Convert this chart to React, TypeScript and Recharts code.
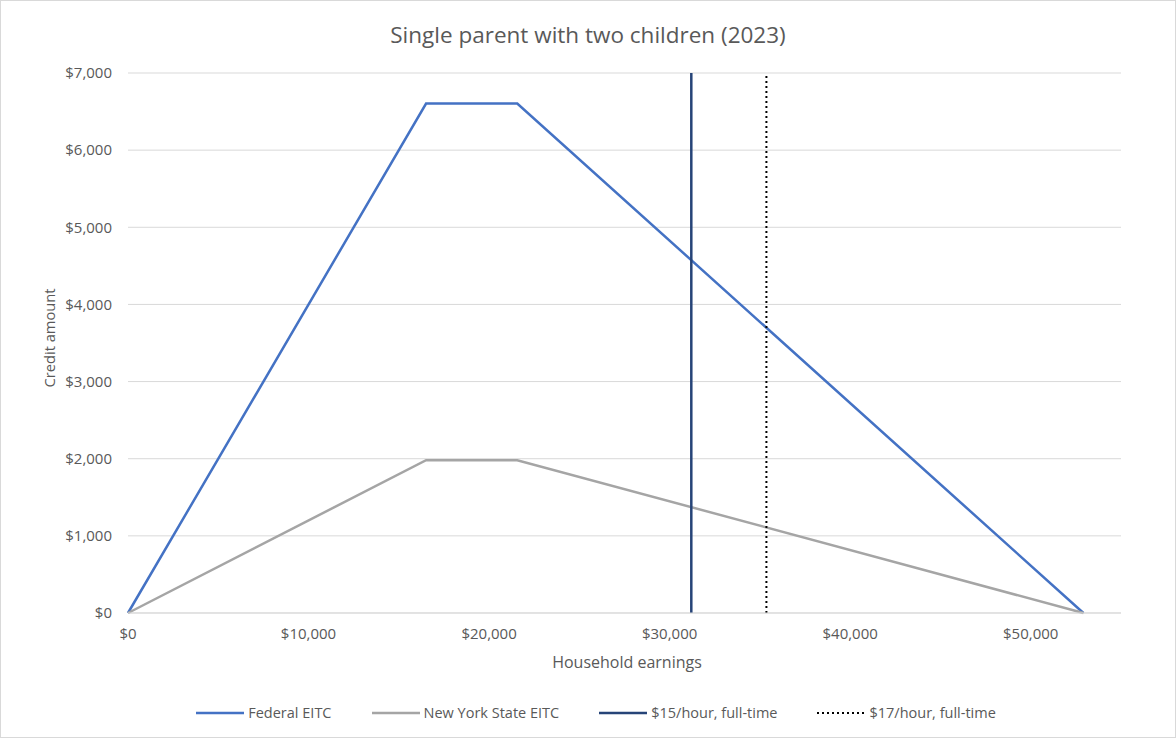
import { LineChart, Line, XAxis, YAxis, CartesianGrid, Legend } from 'recharts';

// earnings breakpoints ($) and credit amounts ($)
const earnings = [0, 16510, 21560, 52918];
const federalEitc = [0, 6604, 6604, 0];
const nyStateEitc = [0, 1981, 1981, 0];

const wage15 = 31200; // $15/hour * 2080 hours
const wage17 = 35360; // $17/hour * 2080 hours
const wageLineSpan = [0, 7000];

const xTicks = [0, 10000, 20000, 30000, 40000, 50000];
const yTicks = [0, 1000, 2000, 3000, 4000, 5000, 6000, 7000];

const FONT = '"Open Sans", sans-serif';
const TEXT = '#595959';

const federalData = earnings.map((x, i) => ({ x, y: federalEitc[i] }));
const nyData = earnings.map((x, i) => ({ x, y: nyStateEitc[i] }));
const wage15Data = wageLineSpan.map((y) => ({ x: wage15, y }));
const wage17Data = wageLineSpan.map((y) => ({ x: wage17, y }));

const legendItems = [
  { label: 'Federal EITC', color: '#4472C4', width: 2.5, dash: undefined },
  { label: 'New York State EITC', color: '#A5A5A5', width: 2.5, dash: undefined },
  { label: '$15/hour, full-time', color: '#264478', width: 2.5, dash: undefined },
  { label: '$17/hour, full-time', color: '#000000', width: 2, dash: '2 3' },
];

const money = (v: number) => '$' + v.toLocaleString('en-US');

function ExcelLegend() {
  return (
    <div style={{ display: 'flex', justifyContent: 'center', gap: 40, fontFamily: FONT, fontSize: 14.5, color: TEXT }}>
      {legendItems.map((it) => (
        <div key={it.label} style={{ display: 'flex', alignItems: 'center', gap: 4 }}>
          <svg width={48} height={10}>
            <line x1={0} x2={48} y1={5} y2={5} stroke={it.color} strokeWidth={it.width} strokeDasharray={it.dash} />
          </svg>
          <span>{it.label}</span>
        </div>
      ))}
    </div>
  );
}

export default function App() {
  return (
    <div style={{ position: 'absolute', left: 0, top: 0, width: 1174, height: 736, border: '1px solid #d9d9d9', background: '#fff' }}>
      <div style={{ position: 'absolute', top: 18, width: '100%', textAlign: 'center', fontFamily: FONT, fontSize: 22.5, color: TEXT }}>
        Single parent with two children (2023)
      </div>
      <div
        style={{
          position: 'absolute', left: 48, top: 337, transform: 'translate(-50%, -50%) rotate(-90deg)',
          fontFamily: FONT, fontSize: 14.7, color: TEXT, whiteSpace: 'nowrap',
        }}
      >
        Credit amount
      </div>
      <div style={{ position: 'absolute', left: 0, top: 650, width: 1252, textAlign: 'center', fontFamily: FONT, fontSize: 16, color: TEXT }}>
        Household earnings
      </div>
      <LineChart width={1174} height={736} margin={{ top: 72, right: 54, left: 0, bottom: 75 }}>
        <CartesianGrid vertical={false} stroke="#d9d9d9" />
        <XAxis
          type="number"
          dataKey="x"
          domain={[0, 55000]}
          ticks={xTicks}
          tickFormatter={money}
          allowDuplicatedCategory={false}
          tick={{ fontSize: 15, fill: TEXT, fontFamily: FONT }}
          axisLine={{ stroke: '#d9d9d9' }}
          tickLine={false}
          tickMargin={9}
        />
        <YAxis
          type="number"
          dataKey="y"
          width={127}
          domain={[0, 7000]}
          ticks={yTicks}
          tickFormatter={money}
          tick={{ fontSize: 15, fill: TEXT, fontFamily: FONT }}
          axisLine={false}
          tickLine={false}
          tickMargin={10}
        />
        <Line data={federalData} dataKey="y" name="Federal EITC" stroke="#4472C4" strokeWidth={2.5} dot={false} isAnimationActive={false} />
        <Line data={nyData} dataKey="y" name="New York State EITC" stroke="#A5A5A5" strokeWidth={2.5} dot={false} isAnimationActive={false} />
        <Line data={wage15Data} dataKey="y" name="$15/hour, full-time" stroke="#264478" strokeWidth={2.5} dot={false} isAnimationActive={false} />
        <Line data={wage17Data} dataKey="y" name="$17/hour, full-time" stroke="#000000" strokeWidth={2} strokeDasharray="2 3" dot={false} isAnimationActive={false} />
        <Legend content={<ExcelLegend />} verticalAlign="bottom" wrapperStyle={{ bottom: 15, left: 35 }} />
      </LineChart>
    </div>
  );
}
